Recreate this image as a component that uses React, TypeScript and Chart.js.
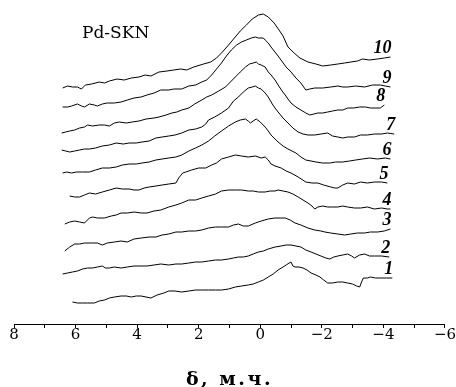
import { useEffect, useRef } from 'react';
import { Chart, registerables } from 'chart.js';

Chart.register(...registerables);

// Spectra: [δ (ppm), stacked intensity (a.u.)]
const trace1: [number, number][] = [
  [6.10, 2.2], [5.94, 2.1], [5.77, 2.1], [5.61, 2.1], [5.39, 2.1], [5.23, 2.3], [5.06, 2.4], [4.90, 2.6],
  [4.74, 2.7], [4.52, 2.8], [4.35, 2.8], [4.19, 2.7], [4.03, 2.8], [3.87, 2.8], [3.71, 2.7], [3.55, 2.6],
  [3.35, 2.9], [3.13, 3.1], [2.97, 3.3], [2.77, 3.3], [2.55, 3.2], [2.32, 3.3], [2.10, 3.4], [1.90, 3.4],
  [1.68, 3.4], [1.45, 3.4], [1.26, 3.4], [1.03, 3.5], [0.81, 3.7], [0.61, 3.8], [0.39, 3.9], [0.23, 4.0],
  [0.06, 4.2], [-0.10, 4.4], [-0.26, 4.7], [-0.42, 5.0], [-0.58, 5.4], [-0.74, 5.7], [-0.84, 5.9], [-0.94, 6.1],
  [-1.00, 6.2], [-1.06, 5.8], [-1.13, 5.7], [-1.26, 5.7], [-1.39, 5.6], [-1.52, 5.4], [-1.65, 5.1], [-1.81, 4.9],
  [-1.94, 4.7], [-2.06, 4.4], [-2.19, 4.1], [-2.35, 4.1], [-2.52, 4.2], [-2.68, 4.2], [-2.84, 4.1], [-3.00, 4.0],
  [-3.13, 3.8], [-3.23, 3.7], [-3.29, 4.2], [-3.35, 4.6], [-3.48, 4.6], [-3.58, 4.7], [-3.74, 4.6], [-3.90, 4.6],
  [-4.10, 4.6], [-4.29, 4.6],
];

const trace2: [number, number][] = [
  [6.42, 5.0], [6.26, 5.1], [6.10, 5.2], [5.94, 5.3], [5.77, 5.5], [5.61, 5.6], [5.45, 5.6], [5.29, 5.7],
  [5.13, 5.8], [5.03, 5.6], [4.90, 5.6], [4.74, 5.7], [4.52, 5.6], [4.32, 5.7], [4.10, 5.8], [3.87, 5.8],
  [3.68, 5.8], [3.45, 5.9], [3.23, 6.0], [2.97, 5.9], [2.74, 6.0], [2.55, 6.0], [2.32, 6.1], [2.10, 6.2],
  [1.90, 6.2], [1.68, 6.3], [1.45, 6.4], [1.26, 6.4], [1.03, 6.5], [0.87, 6.6], [0.71, 6.7], [0.55, 6.7],
  [0.39, 6.8], [0.23, 7.0], [0.06, 7.2], [-0.10, 7.3], [-0.26, 7.5], [-0.48, 7.7], [-0.68, 7.8], [-0.84, 7.9],
  [-1.00, 7.9], [-1.16, 7.8], [-1.32, 7.7], [-1.48, 7.4], [-1.65, 7.2], [-1.81, 7.0], [-1.97, 6.8], [-2.13, 6.6],
  [-2.26, 6.5], [-2.39, 6.7], [-2.52, 6.8], [-2.68, 6.9], [-2.84, 7.0], [-2.97, 6.8], [-3.06, 6.6], [-3.23, 6.9],
  [-3.39, 7.0], [-3.55, 6.8], [-3.71, 6.8], [-3.94, 6.8], [-4.19, 6.7],
];

const trace3: [number, number][] = [
  [6.35, 7.3], [6.19, 7.7], [6.03, 8.0], [5.87, 8.0], [5.71, 8.1], [5.48, 8.1], [5.29, 8.1], [5.13, 7.9],
  [4.97, 8.1], [4.74, 8.2], [4.52, 8.3], [4.32, 8.2], [4.10, 8.5], [3.87, 8.6], [3.61, 8.7], [3.39, 8.7],
  [3.19, 8.9], [2.97, 9.0], [2.74, 9.2], [2.55, 9.2], [2.32, 9.3], [2.10, 9.3], [1.90, 9.4], [1.68, 9.6],
  [1.45, 9.7], [1.26, 9.7], [1.03, 9.7], [0.87, 9.9], [0.71, 10.0], [0.55, 9.8], [0.39, 9.8], [0.16, 10.1],
  [-0.03, 10.3], [-0.26, 10.5], [-0.48, 10.6], [-0.68, 10.6], [-0.81, 10.6], [-0.97, 10.4], [-1.13, 10.1], [-1.32, 9.9],
  [-1.55, 9.6], [-1.77, 9.4], [-1.97, 9.3], [-2.10, 9.2], [-2.29, 9.1], [-2.52, 9.0], [-2.74, 8.9], [-2.94, 9.0],
  [-3.16, 9.1], [-3.39, 9.1], [-3.58, 9.2], [-3.81, 9.2], [-4.03, 9.3], [-4.23, 9.5],
];

const trace4: [number, number][] = [
  [6.35, 10.0], [6.19, 10.2], [6.03, 10.3], [5.87, 10.2], [5.71, 10.1], [5.55, 10.6], [5.45, 10.7], [5.29, 10.6],
  [5.06, 10.6], [4.84, 10.8], [4.68, 10.9], [4.52, 11.1], [4.32, 11.1], [4.10, 11.2], [3.87, 11.1], [3.68, 11.1],
  [3.45, 11.3], [3.23, 11.4], [2.97, 11.7], [2.74, 11.9], [2.55, 12.1], [2.32, 12.4], [2.10, 12.4], [1.90, 12.6],
  [1.68, 12.8], [1.45, 13.0], [1.26, 13.3], [1.03, 13.4], [0.81, 13.4], [0.61, 13.4], [0.39, 13.3], [0.23, 13.3],
  [0.06, 13.2], [-0.16, 13.2], [-0.32, 13.3], [-0.48, 13.3], [-0.58, 13.4], [-0.74, 13.3], [-0.90, 13.2], [-1.06, 13.0],
  [-1.23, 12.7], [-1.39, 12.4], [-1.55, 12.1], [-1.68, 11.8], [-1.77, 11.5], [-1.87, 11.7], [-2.03, 11.8], [-2.19, 11.7],
  [-2.35, 11.7], [-2.52, 11.7], [-2.68, 11.8], [-2.84, 11.7], [-3.06, 11.6], [-3.26, 11.6], [-3.48, 11.7], [-3.71, 11.5],
  [-3.94, 11.6], [-4.13, 11.5], [-4.23, 11.5],
];

const trace5: [number, number][] = [
  [6.19, 12.8], [6.03, 12.7], [5.87, 12.7], [5.71, 12.9], [5.55, 13.1], [5.35, 13.0], [5.13, 13.2], [4.90, 13.4],
  [4.68, 13.6], [4.48, 13.5], [4.26, 13.5], [4.10, 13.4], [3.94, 13.4], [3.77, 13.6], [3.61, 13.7], [3.39, 13.8],
  [3.19, 13.9], [2.97, 14.0], [2.74, 14.1], [2.65, 14.6], [2.52, 15.1], [2.42, 15.2], [2.23, 15.4], [2.00, 15.6],
  [1.77, 15.6], [1.58, 15.9], [1.42, 16.1], [1.26, 16.5], [1.03, 16.7], [0.81, 16.9], [0.61, 16.8], [0.39, 16.7],
  [0.16, 16.8], [-0.03, 16.6], [-0.16, 16.7], [-0.26, 16.4], [-0.35, 16.0], [-0.48, 15.8], [-0.68, 15.6], [-0.84, 15.3],
  [-1.00, 15.1], [-1.23, 14.7], [-1.48, 14.2], [-1.68, 14.1], [-1.87, 14.1], [-2.06, 13.9], [-2.29, 13.7], [-2.42, 13.6],
  [-2.52, 13.6], [-2.68, 13.9], [-2.84, 14.1], [-3.06, 14.0], [-3.26, 14.2], [-3.48, 14.1], [-3.71, 14.2], [-3.94, 14.2],
  [-4.13, 14.1],
];

const trace6: [number, number][] = [
  [6.42, 15.1], [6.29, 15.2], [6.13, 15.1], [5.97, 15.2], [5.77, 15.2], [5.55, 15.2], [5.35, 15.4], [5.13, 15.6],
  [4.90, 15.6], [4.68, 15.7], [4.48, 15.9], [4.26, 16.0], [4.03, 16.0], [3.84, 16.1], [3.61, 16.2], [3.39, 16.4],
  [3.19, 16.5], [2.97, 16.6], [2.74, 16.7], [2.55, 16.9], [2.32, 17.3], [2.10, 17.6], [1.90, 17.9], [1.68, 18.3],
  [1.48, 18.8], [1.26, 19.3], [1.03, 19.8], [0.81, 20.2], [0.65, 20.4], [0.48, 20.5], [0.39, 20.3], [0.32, 20.1],
  [0.23, 20.3], [0.13, 20.5], [0.00, 20.2], [-0.16, 19.7], [-0.26, 19.3], [-0.35, 18.9], [-0.58, 18.2], [-0.74, 17.8],
  [-0.90, 17.5], [-1.16, 17.1], [-1.32, 16.7], [-1.48, 16.4], [-1.65, 16.3], [-1.81, 16.2], [-2.03, 16.1], [-2.26, 16.1],
  [-2.45, 16.2], [-2.68, 16.2], [-2.90, 16.3], [-3.10, 16.4], [-3.32, 16.5], [-3.55, 16.6], [-3.81, 16.5], [-4.06, 16.6],
  [-4.23, 16.5],
];

const trace7: [number, number][] = [
  [6.45, 17.4], [6.32, 17.3], [6.19, 17.2], [6.03, 17.3], [5.87, 17.4], [5.71, 17.5], [5.55, 17.5], [5.35, 17.6],
  [5.13, 17.8], [4.90, 17.9], [4.68, 18.1], [4.45, 18.0], [4.26, 18.1], [4.03, 18.1], [3.84, 18.2], [3.61, 18.3],
  [3.39, 18.6], [3.19, 18.7], [2.97, 18.8], [2.77, 18.9], [2.55, 19.1], [2.32, 19.4], [2.10, 19.5], [1.90, 19.7],
  [1.77, 20.0], [1.68, 20.4], [1.48, 20.7], [1.26, 21.1], [1.03, 21.6], [0.87, 22.3], [0.71, 22.7], [0.55, 23.2],
  [0.39, 23.6], [0.26, 23.7], [0.16, 23.8], [0.06, 23.6], [-0.03, 23.5], [-0.16, 23.1], [-0.26, 22.7], [-0.39, 22.0],
  [-0.48, 21.6], [-0.58, 21.2], [-0.74, 20.6], [-0.90, 20.1], [-1.06, 19.6], [-1.23, 19.2], [-1.39, 19.0], [-1.55, 18.9],
  [-1.77, 18.9], [-1.97, 19.0], [-2.19, 19.1], [-2.35, 18.8], [-2.52, 18.7], [-2.68, 18.6], [-2.84, 18.7], [-3.06, 18.7],
  [-3.26, 18.9], [-3.48, 18.9], [-3.71, 19.0], [-3.94, 19.0], [-4.13, 19.1], [-4.35, 19.0],
];

const trace8: [number, number][] = [
  [6.45, 19.1], [6.32, 19.2], [6.19, 19.3], [6.03, 19.4], [5.87, 19.6], [5.71, 19.7], [5.61, 19.9], [5.45, 19.8],
  [5.23, 19.9], [5.06, 19.9], [4.90, 19.8], [4.74, 20.1], [4.58, 20.2], [4.35, 20.1], [4.16, 20.2], [3.94, 20.3],
  [3.71, 20.5], [3.45, 20.6], [3.29, 20.7], [3.06, 20.9], [2.87, 21.1], [2.71, 21.2], [2.55, 21.4], [2.32, 21.6],
  [2.13, 22.0], [1.90, 22.4], [1.74, 22.7], [1.58, 22.9], [1.35, 23.3], [1.13, 23.7], [0.97, 24.2], [0.81, 24.7],
  [0.65, 25.2], [0.48, 25.7], [0.35, 26.0], [0.23, 26.1], [0.13, 26.2], [0.06, 26.0], [-0.03, 25.9], [-0.16, 25.7],
  [-0.26, 25.2], [-0.35, 24.9], [-0.48, 24.4], [-0.58, 23.9], [-0.71, 23.3], [-0.81, 22.9], [-0.90, 22.5], [-1.00, 22.1],
  [-1.16, 21.7], [-1.32, 21.4], [-1.48, 21.1], [-1.61, 20.9], [-1.74, 21.0], [-1.87, 21.1], [-2.03, 21.1], [-2.19, 21.2],
  [-2.35, 21.3], [-2.52, 21.4], [-2.68, 21.4], [-2.84, 21.6], [-3.03, 21.6], [-3.23, 21.7], [-3.42, 21.7], [-3.58, 21.6],
  [-3.74, 21.6], [-3.90, 21.6], [-4.03, 21.9],
];

const trace9: [number, number][] = [
  [6.42, 21.7], [6.26, 21.7], [6.13, 21.8], [5.94, 22.0], [5.81, 21.8], [5.71, 21.7], [5.55, 22.0], [5.39, 21.9],
  [5.29, 21.8], [5.13, 22.0], [4.97, 22.1], [4.74, 22.1], [4.52, 22.2], [4.32, 22.4], [4.10, 22.6], [3.87, 22.7],
  [3.68, 22.9], [3.45, 23.1], [3.23, 23.4], [2.97, 23.4], [2.81, 23.5], [2.55, 23.5], [2.32, 23.8], [2.10, 23.9],
  [1.90, 24.2], [1.74, 24.4], [1.58, 24.9], [1.42, 25.5], [1.26, 26.1], [1.10, 26.8], [0.94, 27.4], [0.77, 27.9],
  [0.61, 28.2], [0.45, 28.4], [0.29, 28.6], [0.16, 28.7], [0.06, 28.6], [-0.10, 28.6], [-0.16, 28.4], [-0.26, 28.1],
  [-0.35, 27.7], [-0.58, 26.8], [-0.84, 25.7], [-1.00, 25.2], [-1.16, 24.6], [-1.32, 24.1], [-1.48, 23.4], [-1.61, 23.5],
  [-1.77, 23.6], [-2.03, 23.6], [-2.29, 23.7], [-2.52, 23.8], [-2.68, 23.7], [-2.84, 23.7], [-3.10, 23.8], [-3.39, 23.7],
  [-3.65, 23.9], [-3.90, 23.9], [-4.06, 23.8], [-4.23, 23.7],
];

const trace10: [number, number][] = [
  [6.42, 23.6], [6.26, 23.8], [6.10, 23.7], [5.94, 23.7], [5.81, 23.5], [5.68, 23.9], [5.48, 24.0], [5.23, 24.2],
  [5.06, 24.1], [4.90, 24.3], [4.65, 24.5], [4.42, 24.4], [4.19, 24.6], [3.94, 24.7], [3.74, 24.9], [3.55, 24.8],
  [3.29, 25.2], [3.03, 25.3], [2.81, 25.4], [2.58, 25.5], [2.39, 25.4], [2.16, 25.7], [1.84, 26.0], [1.61, 26.2],
  [1.42, 26.6], [1.23, 27.2], [1.03, 27.9], [0.84, 28.6], [0.65, 29.3], [0.45, 29.9], [0.26, 30.5], [0.06, 30.9],
  [-0.10, 31.0], [-0.26, 30.7], [-0.45, 30.1], [-0.61, 29.4], [-0.74, 28.8], [-0.90, 27.7], [-1.10, 27.1], [-1.29, 26.6],
  [-1.55, 26.2], [-1.81, 26.0], [-2.03, 25.8], [-2.29, 25.9], [-2.52, 26.0], [-2.74, 26.1], [-2.94, 26.2], [-3.16, 26.3],
  [-3.32, 26.5], [-3.55, 26.4], [-3.81, 26.5], [-4.03, 26.6], [-4.23, 26.7],
];

const traces = [trace1, trace2, trace3, trace4, trace5, trace6, trace7, trace8, trace9, trace10];
const traceLabels = ['1', '2', '3', '4', '5', '6', '7', '8', '9', '10'];

const xMin = -6;
const xMax = 8;
const yMin = 0;
const yMax = 32.4;
const labelledStep = 2;

const sampleName = 'Pd-SKN';
const axisTitle = 'δ, м.ч.';

const SERIF = '"DejaVu Serif", "Liberation Serif", serif';
const TIMES = '"Liberation Serif", "DejaVu Serif", serif';

const fmtTick = (v: number) => (v < 0 ? '\u2212' + Math.abs(v) : String(v));

const textPlugin = {
  id: 'textPlugin',
  afterDatasetsDraw(chart: any) {
    const { ctx, chartArea } = chart;
    const xs = chart.scales.x;
    const ys = chart.scales.y;
    ctx.save();
    ctx.fillStyle = '#000';
    ctx.font = `italic bold 18px ${TIMES}`;
    ctx.textAlign = 'right';
    ctx.textBaseline = 'alphabetic';
    traces.forEach((t, i) => {
      const [lx, ly] = t[t.length - 1];
      ctx.fillText(traceLabels[i], xs.getPixelForValue(lx) + 1, ys.getPixelForValue(ly) - 4);
    });
    ctx.font = `17px ${SERIF}`;
    ctx.textAlign = 'left';
    ctx.fillText(sampleName, chartArea.left + 68, chartArea.top + 38);
    ctx.font = `bold 19px ${SERIF}`;
    ctx.textAlign = 'center';
    try {
      (ctx as any).letterSpacing = '2.5px';
    } catch (e) {
      /* ignore */
    }
    ctx.fillText(axisTitle, (chartArea.left + chartArea.right) / 2, chartArea.bottom + 61);
    ctx.restore();
  },
};

export default function App() {
  const ref = useRef<HTMLCanvasElement>(null);
  useEffect(() => {
    if (!ref.current) return;
    const chart = new Chart(ref.current, {
      type: 'line',
      data: {
        datasets: traces.map((t, i) => ({
          label: traceLabels[i],
          data: t.map(([x, y]) => ({ x, y })),
          borderColor: '#000',
          borderWidth: 1,
          pointRadius: 0,
          fill: false,
          tension: 0,
        })),
      },
      options: {
        responsive: false,
        animation: false,
        devicePixelRatio: 1,
        layout: { padding: { left: 14, right: 8, top: 0, bottom: 44 } },
        plugins: { legend: { display: false }, tooltip: { enabled: false } },
        scales: {
          x: {
            type: 'linear',
            min: xMin,
            max: xMax,
            reverse: true,
            grid: { display: true, drawOnChartArea: false, drawTicks: true, tickLength: 4, color: '#000', lineWidth: 1 },
            border: { display: true, color: '#000', width: 1 },
            ticks: {
              stepSize: 1,
              autoSkip: false,
              maxRotation: 0,
              padding: 0,
              color: '#000',
              font: { family: SERIF, size: 15, lineHeight: 1 },
              callback: (v: any) => (Number(v) % labelledStep === 0 ? fmtTick(Number(v)) : ''),
            },
          },
          y: { display: false, min: yMin, max: yMax },
        },
      },
      plugins: [textPlugin],
    } as any);
    return () => chart.destroy();
  }, []);
  return (
    <div style={{ position: 'fixed', left: 0, top: 0, width: 456, height: 387, background: '#fff' }}>
      <canvas ref={ref} width={456} height={387} />
    </div>
  );
}
